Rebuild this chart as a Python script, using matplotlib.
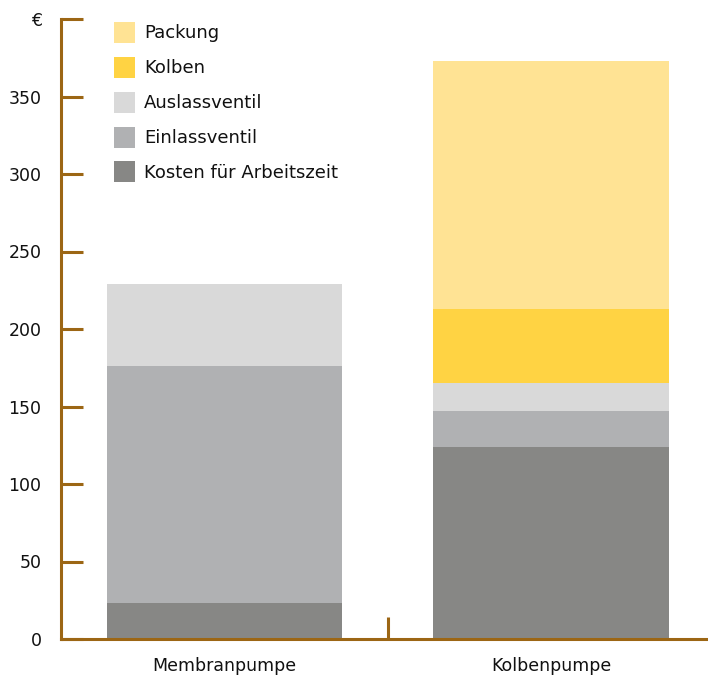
import matplotlib
matplotlib.use("Agg")
import matplotlib.pyplot as plt
import numpy as np

pumps = ["Membranpumpe", "Kolbenpumpe"]
components = ["Kosten für Arbeitszeit", "Einlassventil", "Auslassventil", "Kolben", "Packung"]
arbeitszeit = [23, 124]
einlassventil = [153, 23]
auslassventil = [53, 18]
kolben = [0, 48]
packung = [0, 160]
colors = ["#878785", "#b0b1b3", "#d9d9d9", "#ffd343", "#ffe394"]
ytick_values = [0, 50, 100, 150, 200, 250, 300, 350, 400]
ytick_labels = ["0", "50", "100", "150", "200", "250", "300", "350", "€"]

axis_color = "#9c6614"
plt.rcParams["font.family"] = ["DejaVu Sans"]

W, H = 708, 675
fig = plt.figure(figsize=(W / 100, H / 100), dpi=100)
# axes spans from the left spine to just past the right edge of the figure
left_px, right_px, bottom_px, top_px = 61, 714.5, 639, 19
ax = fig.add_axes([left_px / W, (H - bottom_px) / H,
                   (right_px - left_px) / W, (bottom_px - top_px) / H])

x = np.arange(len(pumps))
series = [arbeitszeit, einlassventil, auslassventil, kolben, packung]
bottom = np.zeros(len(pumps))
handles = []
for name, vals, c in zip(components, series, colors):
    bars = ax.bar(x, vals, width=0.72, bottom=bottom, color=c, label=name,
                  linewidth=0, zorder=1)
    handles.append(bars)
    bottom += np.array(vals)

ax.set_xlim(-0.5, 1.5)
ax.set_ylim(0, 400)

for s in ["top", "right"]:
    ax.spines[s].set_visible(False)
for s in ["left", "bottom"]:
    ax.spines[s].set_color(axis_color)
    ax.spines[s].set_linewidth(2.2)
    ax.spines[s].set_zorder(3)

ax.set_yticks(ytick_values)
ax.set_yticklabels(ytick_labels)
ax.tick_params(axis="y", direction="in", length=16, width=2.2, color=axis_color,
               pad=14, labelsize=12.5, labelcolor="#111111")

ax.set_xticks(x)
ax.set_xticklabels(pumps)
ax.tick_params(axis="x", which="major", length=0, pad=13, labelsize=12.5,
               labelcolor="#111111")
ax.set_xticks([0.5], minor=True)
ax.tick_params(axis="x", which="minor", direction="in", length=16, width=2.2,
               color=axis_color)

leg = ax.legend(handles[::-1], components[::-1], loc="upper left",
                bbox_to_anchor=(114 / W, (H - 22) / H), bbox_transform=fig.transFigure,
                frameon=False, fontsize=13, handlelength=1.16, handleheight=1.41,
                labelspacing=0.77, handletextpad=0.5, borderpad=0, borderaxespad=0)
for t in leg.get_texts():
    t.set_color("#111111")

fig.savefig("out.png", dpi=100)
